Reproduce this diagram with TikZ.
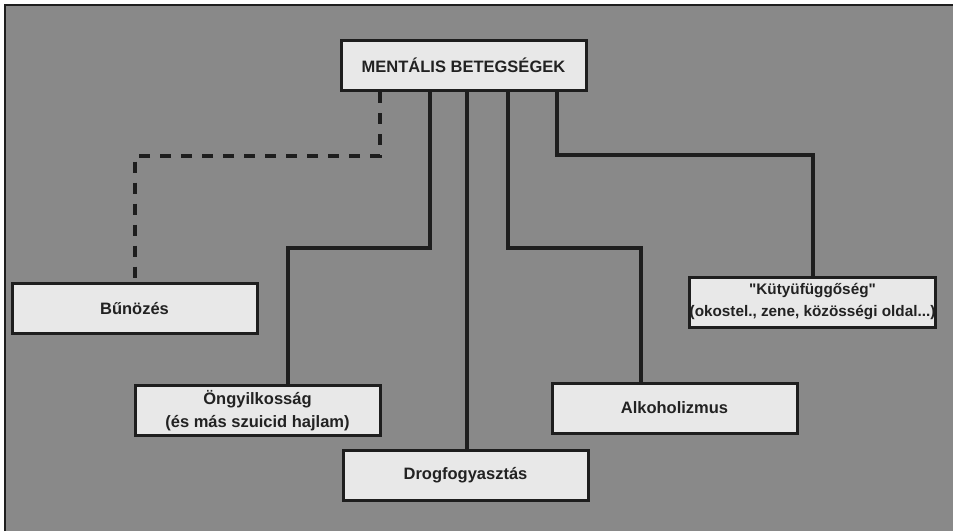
\documentclass[tikz,border=0pt]{standalone}
\usepackage{fontspec}
\setmainfont{Liberation Sans}[Ligatures=TeXOff]
\usepackage{xcolor}
\usepackage{tikz}

\definecolor{bggray}{HTML}{898989}
\definecolor{boxgray}{HTML}{E8E8E8}
\definecolor{linedark}{HTML}{1E1E1E}
\definecolor{textdark}{HTML}{222222}

\begin{document}
\begin{tikzpicture}[x=1pt, y=-1pt,
	box/.style={draw=linedark, fill=boxgray, line width=3pt, minimum width=245pt, minimum height=50pt, inner sep=0pt, align=center, text=textdark, font=\bfseries\fontsize{16.5}{23}\selectfont},
	conn/.style={draw=linedark, line width=4pt},
	dashconn/.style={conn, dash pattern=on 11pt off 10pt}]
					\useasboundingbox (0,0) rectangle (953,531);
					\fill[white] (0,0) rectangle (953,531);
					\fill[bggray] (5,5) rectangle (953,531);
					\draw[linedark, line width=1.5pt] (5,531) -- (5,5) -- (953,5);

					\node[box] (mental) at (463.5,65.5) {MENTÁLIS BETEGSÉGEK};
					\node[box] (bun) at (134.5,308.5) {Bűnözés};
					\node[box] (ongy) at (257.5,410.5) {Öngyilkosság\\(és más szuicid hajlam)};
					\node[box] (drog) at (465.5,475.5) {Drogfogyasztás};
					\node[box] (alk) at (674.5,408) {Alkoholizmus};
					\node[box, font=\bfseries\fontsize{15.3}{22}\selectfont] (kut) at (812.5,302) {"Kütyüfüggőség"\\(okostel., zene, közösségi oldal...)};

					\coordinate (d1) at (380,156);
					\coordinate (o1) at (430,248);
					\coordinate (o2) at (288,248);
					\coordinate (dr) at (467,0);
					\coordinate (a1) at (508,248);
					\coordinate (a2) at (641,248);
					\coordinate (k1) at (557,155);

					\draw[dashconn] (mental.south -| d1) |- (bun.north |- d1) -- (bun.north);
					\draw[conn] (mental.south -| o1) |- (o2) -- (ongy.north -| o2);
					\draw[conn] (mental.south -| dr) -- (drog.north -| dr);
					\draw[conn] (mental.south -| a1) |- (a2) -- (alk.north -| a2);
					\draw[conn] (mental.south -| k1) |- (kut.north |- k1) -- (kut.north);
				\end{tikzpicture}
\end{document}
